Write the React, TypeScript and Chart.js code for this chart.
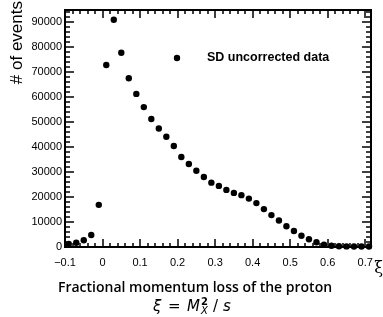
import { useEffect, useRef } from 'react';
import { Chart, registerables } from 'chart.js';

Chart.register(...registerables);

// Bin centres of the fractional momentum loss xi (bin width 0.02)
const xiCenters = [
  -0.09, -0.07, -0.05, -0.03, -0.01, 0.01, 0.03, 0.05, 0.07, 0.09,
  0.11, 0.13, 0.15, 0.17, 0.19, 0.21, 0.23, 0.25, 0.27, 0.29,
  0.31, 0.33, 0.35, 0.37, 0.39, 0.41, 0.43, 0.45, 0.47, 0.49,
  0.51, 0.53, 0.55, 0.57, 0.59, 0.61, 0.63, 0.65, 0.67, 0.69, 0.71,
];
// Number of events per bin (SD uncorrected data)
const events = [
  1000, 1500, 2500, 4600, 16700, 72800, 90900, 77700, 67500, 61200,
  55900, 51100, 47300, 44000, 40300, 35900, 33100, 30400, 27900, 25600,
  24300, 22700, 21500, 20600, 19200, 17400, 15000, 12600, 10400, 8100,
  6200, 4300, 2900, 1700, 700, 300, 100, 50, 30, 20, 20,
];
const xTicks = [-0.1, 0, 0.1, 0.2, 0.3, 0.4, 0.5, 0.6, 0.7];
const yTicks = [0, 10000, 20000, 30000, 40000, 50000, 60000, 70000, 80000, 90000];
const xMinorStep = 0.02;
const yMinorStep = 2000;
const legendLabel = 'SD uncorrected data';
const yTitle = '# of events';
const xTitle = 'ξ';
const caption = 'Fractional momentum loss of the proton';

const SANS = "'Liberation Sans', Arial, sans-serif";

function drawFrame(chart: any) {
  const { ctx, chartArea: a, scales } = chart;
  const xs = scales.x;
  const ys = scales.y;
  ctx.save();
  ctx.fillStyle = '#000';
  const L = Math.round(a.left);
  const R = Math.round(a.right);
  const T = Math.round(a.top);
  const B = Math.round(a.bottom);
  // frame (2px)
  ctx.fillRect(L - 1, T - 1, R - L + 2, 2);
  ctx.fillRect(L - 1, B - 1, R - L + 2, 2);
  ctx.fillRect(L - 1, T - 1, 2, B - T + 2);
  ctx.fillRect(R - 1, T - 1, 2, B - T + 2);
  // x ticks (bottom & top, inward)
  const nx = Math.round((xs.max - xs.min) / xMinorStep);
  for (let i = 0; i <= nx; i++) {
    const v = xs.min + i * xMinorStep;
    const px = Math.round(xs.getPixelForValue(v));
    if (px > R) break;
    const major = Math.abs(v * 10 - Math.round(v * 10)) < 1e-6;
    const len = major ? 8 : 4;
    ctx.fillRect(px - 0.75, B - len, 1.5, len);
    ctx.fillRect(px - 0.75, T, 1.5, len);
  }
  // y ticks (left & right, inward)
  for (let v = 0; v <= ys.max; v += yMinorStep) {
    const py = Math.round(ys.getPixelForValue(v));
    const major = v % 10000 === 0;
    const len = major ? 9 : 5;
    ctx.fillRect(L, py - 0.75, len, 1.5);
    ctx.fillRect(R - len, py - 0.75, len, 1.5);
  }
  ctx.restore();
}

const rootPlugin = {
  id: 'rootStyle',
  afterDraw(chart: any) {
    drawFrame(chart);
    const { ctx } = chart;
    ctx.save();
    ctx.fillStyle = '#000';

    // y-axis title, right-aligned at the top
    ctx.save();
    ctx.translate(21.5, 1);
    ctx.rotate(-Math.PI / 2);
    ctx.font = `17px ${SANS}`;
    ctx.textAlign = 'right';
    ctx.textBaseline = 'alphabetic';
    ctx.fillText(yTitle, 0, 0);
    ctx.restore();

    // x-axis title
    ctx.font = "16px 'DejaVu Serif', serif";
    ctx.textAlign = 'right';
    ctx.textBaseline = 'alphabetic';
    ctx.fillText(xTitle, 383, 273);

    // legend
    ctx.beginPath();
    ctx.arc(177, 58, 3.2, 0, Math.PI * 2);
    ctx.fill();
    ctx.font = `bold 12.5px ${SANS}`;
    ctx.textAlign = 'left';
    ctx.textBaseline = 'middle';
    ctx.fillText(legendLabel, 207, 58);

    // caption
    ctx.font = "600 14px 'Open Sans', sans-serif";
    ctx.textAlign = 'center';
    ctx.textBaseline = 'alphabetic';
    ctx.fillText(caption, 195, 292);

    // formula  xi = M_X^2 / s
    ctx.textAlign = 'left';
    const base = 311;
    ctx.font = "italic 15px 'DejaVu Sans', sans-serif";
    ctx.fillText('ξ', 153, base);
    ctx.font = "15px 'DejaVu Sans', sans-serif";
    ctx.fillText('=', 168, base);
    ctx.font = "italic 15px 'DejaVu Sans', sans-serif";
    ctx.fillText('M', 187, base);
    ctx.font = "bold 10px 'DejaVu Sans', sans-serif";
    ctx.fillText('2', 201, base - 6);
    ctx.font = "italic 10px 'DejaVu Sans', sans-serif";
    ctx.fillText('X', 201, base + 3);
    ctx.font = "15px 'DejaVu Sans', sans-serif";
    ctx.fillText('/', 213, base);
    ctx.font = "italic 15px 'DejaVu Sans', sans-serif";
    ctx.fillText('s', 223, base);

    ctx.restore();
  },
};

export default function App() {
  const ref = useRef<HTMLCanvasElement>(null);
  useEffect(() => {
    document.body.style.margin = '0';
    const chart = new Chart(ref.current as HTMLCanvasElement, {
      type: 'scatter',
      data: {
        datasets: [
          {
            label: legendLabel,
            data: xiCenters.map((x, i) => ({ x, y: events[i] })),
            backgroundColor: '#000',
            borderColor: '#000',
            pointRadius: 3.2,
            pointHoverRadius: 3.2,
            borderWidth: 0,
            clip: false as any,
          },
        ],
      },
      options: {
        responsive: false,
        animation: false,
        devicePixelRatio: 1,
        events: [],
        layout: { padding: { top: 6, right: 6, left: 0, bottom: 0 } },
        plugins: { legend: { display: false }, tooltip: { enabled: false } },
        scales: {
          x: {
            type: 'linear',
            min: -0.1,
            max: 0.715,
            grid: { display: false, drawTicks: false },
            border: { display: false },
            ticks: {
              padding: 10,
              color: '#000',
              font: { family: SANS, size: 11 },
              maxRotation: 0,
              callback: (v: any) => {
                const r = Math.round(Number(v) * 10) / 10;
                return r < 0 ? '\u2212' + Math.abs(r) : String(r);
              },
            },
            afterBuildTicks: (s: any) => {
              s.ticks = xTicks.map((value) => ({ value }));
            },
            afterFit: (s: any) => {
              s.height = 70.5;
            },
          },
          y: {
            type: 'linear',
            min: 0,
            max: 95000,
            grid: { display: false, drawTicks: false },
            border: { display: false },
            ticks: {
              padding: 3,
              color: '#000',
              font: { family: SANS, size: 11 },
              callback: (v: any) => String(v),
            },
            afterBuildTicks: (s: any) => {
              s.ticks = yTicks.map((value) => ({ value }));
            },
            afterFit: (s: any) => {
              s.width = 65;
            },
          },
        },
      },
      plugins: [rootPlugin],
    });
    return () => chart.destroy();
  }, []);
  return <canvas ref={ref} width={383} height={317} style={{ display: 'block' }} />;
}
